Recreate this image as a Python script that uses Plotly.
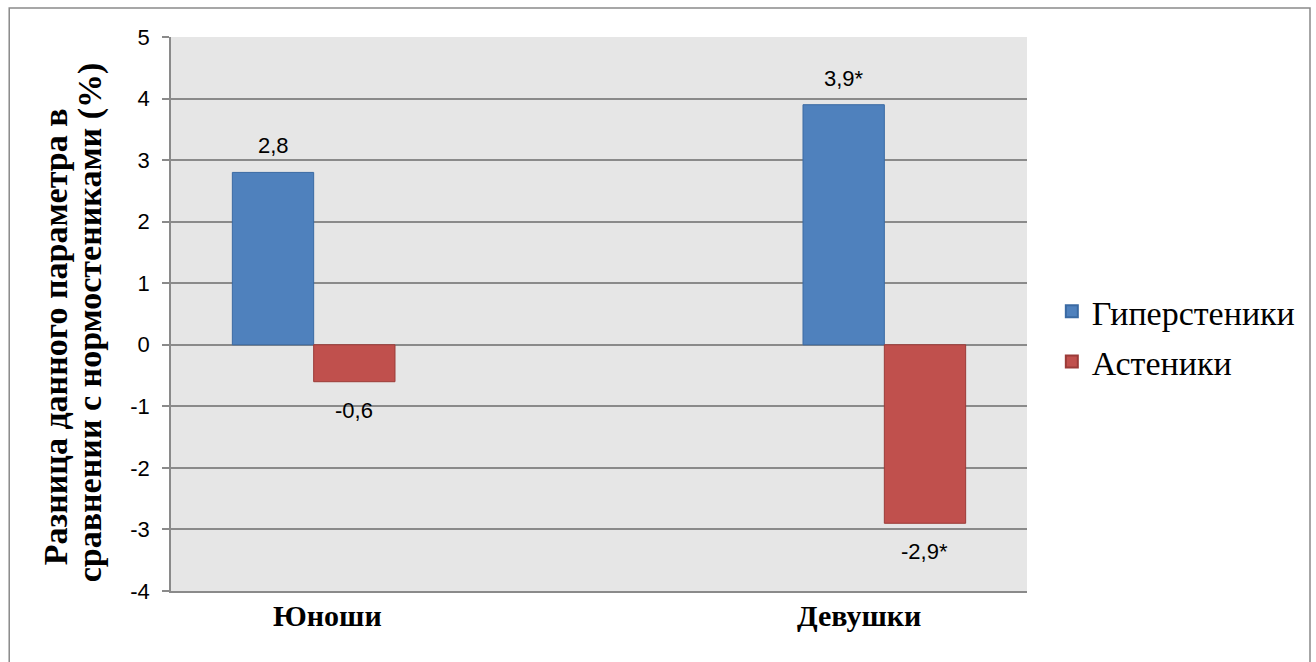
import plotly.graph_objects as go

categories = ["Юноши", "Девушки"]
hyper = [2.8, 3.9]
hyper_labels = ["2,8", "3,9*"]
asthen = [-0.6, -2.9]
asthen_labels = ["-0,6", "-2,9*"]
y_ticks = [5, 4, 3, 2, 1, 0, -1, -2, -3, -4]
y_title_lines = ["Разница данного параметра в", "сравнении с нормостениками (%)"]

BAR_W = 0.1425
xs = list(range(len(categories)))

SERIF = "Liberation Serif, Times New Roman, serif"
SANS = "Liberation Sans, Arial, sans-serif"

fig = go.Figure()
fig.add_trace(go.Bar(
    name="Гиперстеники", x=xs, y=hyper, width=BAR_W, offset=-BAR_W,
    legendgroup="g1",
    marker=dict(color="#4f81bd", line=dict(color="#3a6aa3", width=1)),
))
fig.add_trace(go.Bar(
    name="Астеники", x=xs, y=asthen, width=BAR_W, offset=0,
    legendgroup="g2",
    marker=dict(color="#c0504d", line=dict(color="#9b3b38", width=1)),
))

label_font = dict(family=SANS, size=22, color="#000000")
for i in xs:
    fig.add_annotation(x=i - BAR_W / 2, y=hyper[i], text=hyper_labels[i],
                       showarrow=False, yanchor="bottom", yshift=12, font=label_font)
    fig.add_annotation(x=i + BAR_W / 2, y=asthen[i], text=asthen_labels[i],
                       showarrow=False, yanchor="top", yshift=-14, font=label_font)

# category names under the axis
cat_font = dict(family=SERIF, size=30, color="#000000")
for i, name in enumerate(categories):
    fig.add_annotation(x=i + (0.025 if i == 0 else -0.045), y=0, yref="paper",
                       text="<b>%s</b>" % name, showarrow=False,
                       yanchor="middle", yshift=-24, font=cat_font)

# rotated two-line axis title
title_font = dict(family=SERIF, size=34, color="#000000")
for (px, py), line in zip([(-0.1355, 0.458), (-0.0946, 0.485)], y_title_lines):
    fig.add_annotation(x=px, y=py, xref="paper", yref="paper", text="<b>%s</b>" % line,
                       textangle=-90, showarrow=False, xanchor="center", yanchor="middle",
                       font=title_font)

# outer frame
fig.add_shape(type="rect", xref="paper", yref="paper",
              x0=-0.189, x1=1.3306, y0=-0.3, y1=1.0523,
              line=dict(color="#8a8a8a", width=1.5), layer="below")

fig.update_layout(
    width=1316, height=662,
    margin=dict(l=171, r=289, t=37, b=71),
    paper_bgcolor="#ffffff",
    plot_bgcolor="#e6e6e6",
    barmode="overlay",
    showlegend=True,
    legend=dict(x=1.029, y=0.459, xanchor="left", yanchor="middle",
                font=dict(family=SERIF, size=34, color="#000000"),
                traceorder="grouped", tracegroupgap=3,
                itemsizing="constant", bgcolor="rgba(0,0,0,0)"),
    xaxis=dict(range=[-0.25, 1.25], showticklabels=False, ticks="",
               showgrid=False, zeroline=False, showline=True,
               linecolor="#8a8a8a", linewidth=1.5, mirror=False),
    yaxis=dict(range=[-4, 5], tickvals=y_ticks, ticktext=[str(v) for v in y_ticks],
               ticks="outside", ticklen=7, tickcolor="#8a8a8a", tickwidth=1.5,
               showgrid=True, gridcolor="#8a8a8a", gridwidth=1.5,
               zeroline=False, showline=True, linecolor="#8a8a8a", linewidth=1.5,
               tickfont=dict(family=SANS, size=22, color="#000000"),
               ticklabelstandoff=8),
    font=dict(family=SANS),
)

fig.write_html("out.html")
